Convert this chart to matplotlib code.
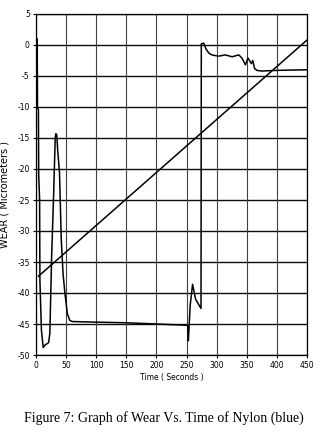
import matplotlib

matplotlib.use("Agg")
import matplotlib.pyplot as plt
import numpy as np

# wear trace
time_s = [0.5, 2, 2.5, 4, 4.5, 6, 6.5, 9, 12, 15, 21, 23, 26, 29, 32, 33,
          34.5, 36, 39, 42, 45, 48, 52, 56, 60, 100, 150, 200, 250, 252,
          253, 256, 260, 265, 274, 274.5, 278.6, 282, 286.9, 292, 303,
          314.5, 325.6, 336.7, 342, 347.7, 352, 357.6, 360, 363, 367, 375,
          397.6, 420, 450]
wear_um = [1.0, 1.0, -10, -10.5, -21, -25, -38, -46, -48.8, -48.4, -48,
           -46.5, -34, -25, -14.8, -14.3, -14.5, -17, -20.5, -31.5, -37,
           -40, -43.3, -44.4, -44.6, -44.7, -44.8, -45.0, -45.2, -45.3,
           -47.7, -42, -38.6, -41, -42.5, 0.2, 0.3, -0.6, -1.3, -1.6, -1.8,
           -1.6, -1.9, -1.6, -2.1, -3.2, -2.1, -3.0, -2.5, -3.8, -4.1, -4.2,
           -4.1, -4.05, -4.0]

# straight reference line
line_t = [4, 450]
line_w = [-37.3, 0.8]

x_ticks = np.arange(0, 451, 50)
y_ticks = np.arange(-50, 6, 5)

plt.rcParams["axes.unicode_minus"] = False

fig = plt.figure(figsize=(3.24, 4.36), dpi=100)
ax = fig.add_axes([36 / 324, 1 - 355 / 436, 271 / 324, 341 / 436])

for y in y_ticks:
    ax.axhline(y, color="0.05", lw=1.0, zorder=1)
for x in x_ticks:
    ax.axvline(x, color="0.25", lw=0.8, zorder=1)

ax.plot(line_t, line_w, color="black", lw=1.1, zorder=3)
ax.plot(time_s, wear_um, color="black", lw=1.1, zorder=3)

ax.set_xlim(0, 450)
ax.set_ylim(-50, 5)
ax.set_xticks(x_ticks)
ax.set_yticks(y_ticks)
ax.tick_params(labelsize=5.5, length=2.5, width=0.8, pad=2)
for s in ax.spines.values():
    s.set_linewidth(0.9)

ax.set_xlabel("Time ( Seconds )", fontsize=5.5, labelpad=2)
fig.text(5 / 324, 1 - 194 / 436, "WEAR ( Micrometers )", rotation=90,
         ha="center", va="center", fontsize=7)

fig.text(164 / 324, 1 - 418 / 436,
         "Figure 7: Graph of Wear Vs. Time of Nylon (blue)",
         ha="center", va="center", fontsize=10, family="Liberation Serif")

fig.savefig("out.png", dpi=100)
